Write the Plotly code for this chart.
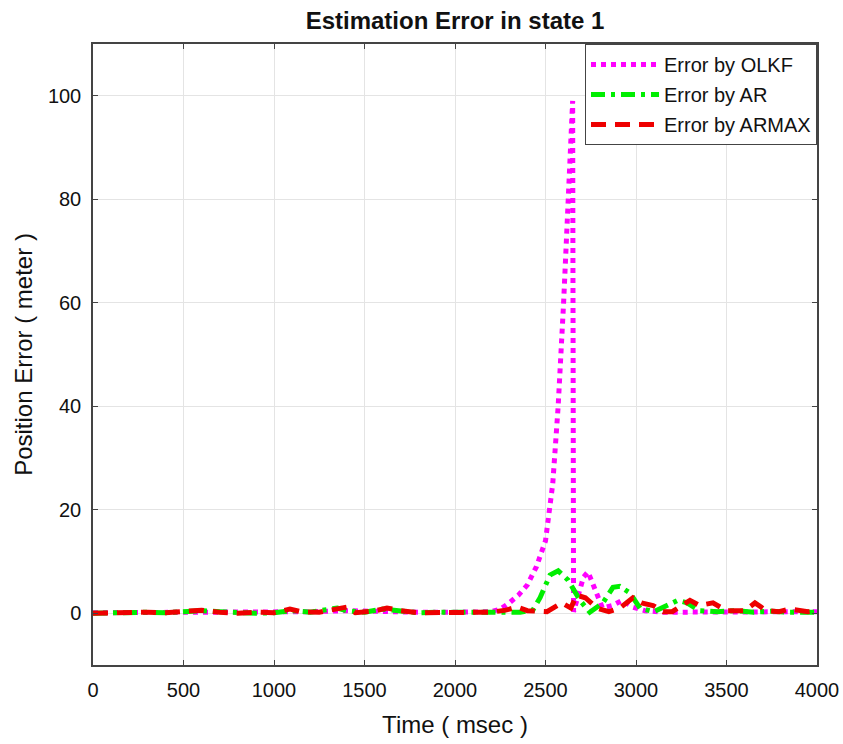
import plotly.graph_objects as go

# ---- data ----
olkf_t = [0, 200, 400, 600, 800, 1000, 1200, 1400, 1600, 1800, 2000, 2200, 2250, 2300, 2350, 2400,
          2450, 2500, 2540, 2570, 2600, 2625, 2650, 2655, 2680, 2710, 2735, 2770, 2815, 2870, 2925,
          2980, 3050, 3150, 3300, 3500, 3700, 3900, 4000]
olkf_v = [0.1, 0.1, 0.2, 0.3, 0.2, 0.2, 0.3, 0.5, 0.3, 0.2, 0.2, 0.3, 0.8, 2.0, 3.5, 5.5,
          9.0, 14.0, 25.0, 40.0, 60.0, 80.0, 99.0, 0.3, 3.0, 7.0, 8.0, 5.0, 1.0, 1.5, 2.5,
          1.2, 0.5, 0.2, 0.2, 0.3, 0.3, 0.2, 0.3]

ar_t = [0, 100, 200, 300, 400, 500, 600, 700, 800, 900, 1000, 1100, 1200, 1300, 1350, 1400,
        1500, 1600, 1700, 1800, 1900, 2000, 2100, 2200, 2300, 2360, 2430, 2470, 2525, 2570,
        2625, 2690, 2745, 2817, 2873, 2910, 2967, 3022, 3100, 3171, 3230, 3282, 3350, 3450,
        3550, 3650, 3750, 3850, 3950, 4000]
ar_v = [0.0, 0.1, 0.1, 0.2, 0.1, 0.2, 0.5, 0.3, 0.1, 0.0, 0.1, 0.5, 0.2, 0.6, 1.0, 0.5,
        0.2, 0.8, 0.4, 0.1, 0.2, 0.1, 0.2, 0.2, 0.3, 0.2, 0.6, 3.0, 7.4, 8.2,
        6.4, 2.5, 0.2, 2.0, 5.0, 5.2, 3.9, 1.0, 0.3, 1.5, 2.5, 2.0, 0.5, 0.3,
        0.5, 0.2, 0.4, 0.2, 0.1, 0.2]

armax_t = [0, 100, 200, 300, 400, 500, 600, 700, 800, 900, 1000, 1088, 1150, 1250, 1330, 1403,
           1450, 1550, 1624, 1700, 1800, 1900, 2000, 2100, 2200, 2280, 2343, 2400, 2453, 2508,
           2590, 2640, 2672, 2720, 2784, 2850, 2911, 2983, 3030, 3094, 3150, 3200, 3298, 3350,
           3425, 3500, 3600, 3657, 3720, 3790, 3850, 3950, 4000]
armax_v = [0.0, 0.1, 0.0, 0.2, 0.1, 0.3, 0.6, 0.2, 0.0, 0.2, 0.1, 0.8, 0.3, 0.2, 0.6, 1.2,
           0.1, 0.4, 1.0, 0.5, 0.1, 0.1, 0.2, 0.0, 0.2, 0.6, 1.2, 0.5, 0.3, 0.3,
           2.0, 1.0, 3.5, 3.0, 1.0, 0.3, 1.0, 3.0, 2.0, 1.5, 0.3, 0.3, 2.5, 1.5,
           2.0, 0.5, 0.5, 2.0, 0.5, 0.3, 0.8, 0.3, 0.5]

names = ["Error by OLKF", "Error by AR", "Error by ARMAX"]
colors = ["#ff00ff", "#00ee00", "#ee0000"]
x_ticks = [0, 500, 1000, 1500, 2000, 2500, 3000, 3500, 4000]
y_ticks = [0, 20, 40, 60, 80, 100]

FONT = "Liberation Sans"

fig = go.Figure()
fig.add_trace(go.Scatter(x=olkf_t, y=olkf_v, mode="lines", name=names[0], legendgroup="g1",
                         line=dict(color=colors[0], width=5, dash="5px,5px")))
fig.add_trace(go.Scatter(x=ar_t, y=ar_v, mode="lines", name=names[1], legendgroup="g2",
                         line=dict(color=colors[1], width=5, dash="14px,6px,4px,6px")))
fig.add_trace(go.Scatter(x=armax_t, y=armax_v, mode="lines", name=names[2], legendgroup="g3",
                         line=dict(color=colors[2], width=5, dash="15px,9px")))

axis_common = dict(showline=True, linecolor="#444444", linewidth=1.5, mirror="ticks",
                   ticks="inside", ticklen=5, tickcolor="#444444",
                   showgrid=True, gridcolor="#e4e4e4", gridwidth=1, zeroline=False,
                   automargin=False,
                   tickfont=dict(family=FONT, size=20, color="#111111"))

fig.update_layout(
    width=843, height=744,
    paper_bgcolor="white", plot_bgcolor="white",
    margin=dict(l=93, r=26, t=44, b=79),
    title=dict(text="<b>Estimation Error in state 1</b>", xref="paper", x=0.5, xanchor="center",
               y=0.972, yanchor="middle",
               font=dict(family=FONT, size=24, color="#111111")),
    xaxis=dict(range=[0, 4000], tickvals=x_ticks, ticklabelstandoff=6,
               title=dict(text="Time ( msec )", standoff=16,
                          font=dict(family=FONT, size=24, color="#111111")),
               **axis_common),
    yaxis=dict(range=[-10, 110], tickvals=y_ticks, ticklabelstandoff=6,
               title=dict(text="Position Error ( meter )", standoff=8,
                          font=dict(family=FONT, size=24, color="#111111")),
               **axis_common),
    legend=dict(x=1, xanchor="right", y=1, yanchor="top",
                bgcolor="white", bordercolor="#444444", borderwidth=1,
                font=dict(family=FONT, size=20, color="#111111"),
                itemwidth=68, tracegroupgap=1),
    showlegend=True,
)

fig.write_html("out.html")
